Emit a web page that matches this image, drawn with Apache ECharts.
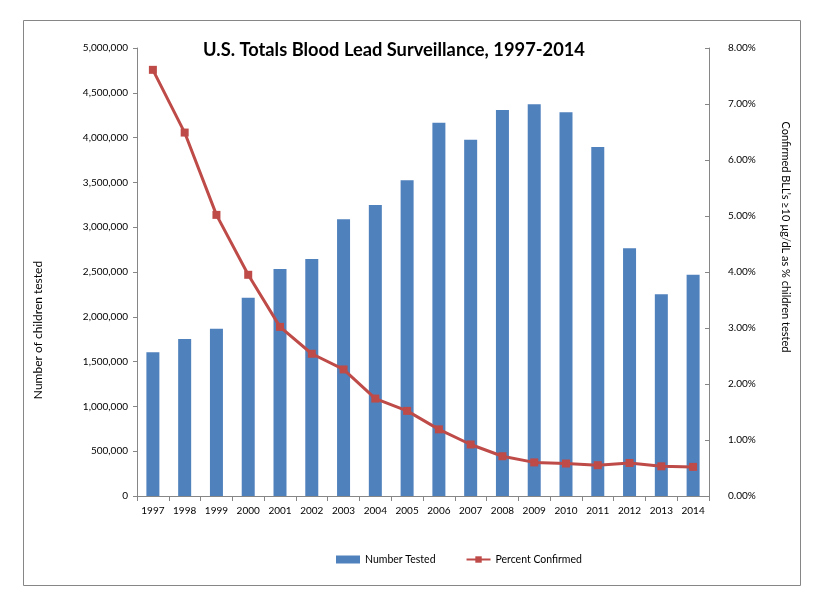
<!DOCTYPE html>
<html>
<head>
<meta charset="utf-8">
<script src="https://cdn.jsdelivr.net/npm/echarts@6/dist/echarts.min.js"></script>
<style>
html,body{margin:0;padding:0;background:#fff;}
#c{width:818px;height:600px;}
</style>
</head>
<body>
<div id="c"></div>
<script>
var years = ['1997','1998','1999','2000','2001','2002','2003','2004','2005','2006','2007','2008','2009','2010','2011','2012','2013','2014'];
var numberTested = [1604000,1752000,1867000,2213000,2533000,2645000,3088000,3248000,3523000,4166000,3977000,4308000,4371000,4282000,3895000,2764000,2251000,2470000];
var percentConfirmed = [7.61,6.49,5.02,3.95,3.02,2.54,2.26,1.74,1.52,1.19,0.92,0.71,0.60,0.58,0.55,0.59,0.53,0.52];
var leftAxisTitle = 'Number of children tested';
var rightAxisTitle = 'Confirmed BLL\u2019s \u226510 \u00b5g/dL as % children tested';

var FONT = 'Lato, "Open Sans", sans-serif';
var chart = echarts.init(document.getElementById('c'));
chart.setOption({
  animation: false,
  backgroundColor: '#fff',
  textStyle: {fontFamily: FONT},
  graphic: [{
    type: 'rect', shape: {x: 23.5, y: 20.5, width: 777, height: 565},
    style: {fill: 'none', stroke: '#868686', lineWidth: 1}, z: -1
  }, {
    type: 'text', x: 38, y: 330, rotation: Math.PI / 2,
    style: {text: leftAxisTitle, fontFamily: FONT, fontSize: 12, fill: '#000', align: 'center', verticalAlign: 'middle'}
  }, {
    type: 'text', x: 786, y: 237, rotation: -Math.PI / 2,
    style: {text: rightAxisTitle, fontFamily: FONT, fontSize: 11, fill: '#000', align: 'center', verticalAlign: 'middle'}
  }],
  title: {
    text: 'U.S. Totals Blood Lead Surveillance, 1997-2014',
    left: 389, top: 36, textAlign: 'center',
    textStyle: {fontFamily: FONT, fontSize: 18.3, fontWeight: 'bold', color: '#000'}
  },
  legend: {
    top: 549, left: 331, itemGap: 30,
    textStyle: {fontFamily: FONT, fontSize: 10.5, color: '#000'},
    data: [
      {name: 'Number Tested', icon: 'rect', itemStyle: {color: '#4F81BD'}},
      {name: 'Percent Confirmed'}
    ],
    itemWidth: 24, itemHeight: 8
  },
  grid: {left: 137, right: 109, top: 48, bottom: 104},
  xAxis: {
    type: 'category', data: years, boundaryGap: true,
    axisLine: {lineStyle: {color: '#868686'}},
    axisTick: {show: true, alignWithLabel: false, length: 5, lineStyle: {color: '#868686'}},
    axisLabel: {color: '#000', fontSize: 10, margin: 10, interval: 0, fontFamily: FONT}
  },
  yAxis: [{
    type: 'value', min: 0, max: 5000000, interval: 500000,
    axisLine: {show: true, lineStyle: {color: '#868686'}},
    axisTick: {show: true, length: 4, lineStyle: {color: '#868686'}},
    splitLine: {show: false},
    axisLabel: {color: '#000', fontSize: 10, margin: 9, fontFamily: FONT,
      formatter: function(v){ return v.toString().replace(/\B(?=(\d{3})+(?!\d))/g, ','); }}
  }, {
    type: 'value', min: 0, max: 8, interval: 1, position: 'right',
    axisLine: {show: true, lineStyle: {color: '#868686'}},
    axisTick: {show: true, inside: true, length: 4, lineStyle: {color: '#868686'}},
    splitLine: {show: false},
    axisLabel: {color: '#000', fontSize: 10, margin: 19, fontFamily: FONT,
      formatter: function(v){ return v.toFixed(2) + '%'; }}
  }],
  series: [{
    name: 'Number Tested', type: 'bar', data: numberTested, yAxisIndex: 0,
    barWidth: 13, itemStyle: {color: '#4F81BD'}
  }, {
    name: 'Percent Confirmed', type: 'line', data: percentConfirmed, yAxisIndex: 1,
    symbol: 'rect', symbolSize: 8, showAllSymbol: true,
    lineStyle: {color: '#BE4B48', width: 3},
    itemStyle: {color: '#BE4B48'}
  }]
});
</script>
</body>
</html>
